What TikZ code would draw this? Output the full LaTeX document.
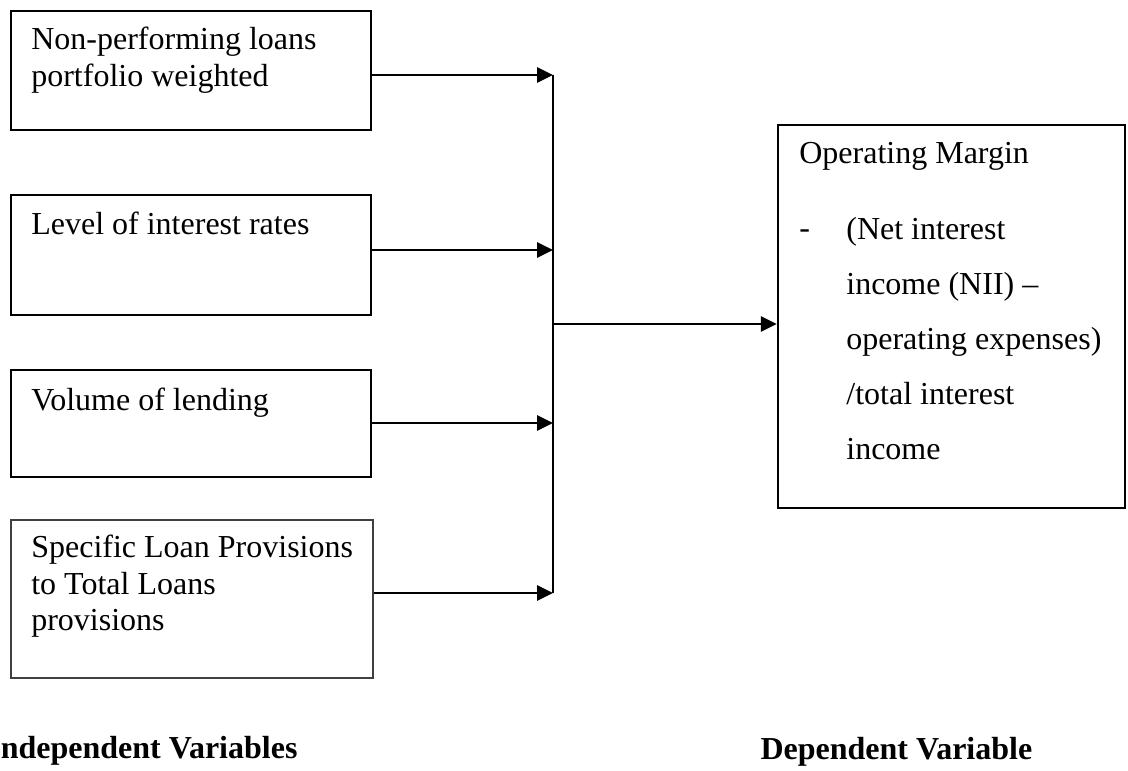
\documentclass[tikz,border=0pt]{standalone}
\usepackage{fontspec}
\setmainfont{Liberation Serif}
\usepackage{tikz}
\usetikzlibrary{positioning,arrows.meta,calc}

\begin{document}
\begin{tikzpicture}[x=0.375pt,y=-0.375pt]
	\tikzstyle{varbox} = [rectangle, draw, line width=0.9pt, inner sep=0pt];
	\tikzstyle{boxtext} = [anchor=north west, inner sep=0pt, align=left, font=\fontsize{12pt}{13.6pt}\selectfont];
	\tikzstyle{linetext} = [anchor=base west, inner sep=0pt, font=\fontsize{12pt}{14pt}\selectfont];
	\tikzstyle{heading} = [inner sep=0pt, font=\fontsize{12pt}{14pt}\selectfont\bfseries];
	\tikzstyle{arr} = [line width=1.1pt, -{Triangle[length=6pt,width=5.6pt]}];
	\useasboundingbox (0,0) rectangle (1128,771);
	
	% independent variables
	\node[varbox, minimum width=135pt, minimum height=44.6pt] (npl) at (191,70.5) {};
	\node[varbox, minimum width=135pt, minimum height=45pt] (rate) at (191,255) {};
	\node[varbox, minimum width=135pt, minimum height=40.1pt] (vol) at (191,423.5) {};
	\node[varbox, minimum width=135.75pt, minimum height=59.25pt, draw=black!75] (prov) at (192,599) {};
	
	\node[boxtext] (npltxt) at ([shift={(21,17)}]npl.north west) {Non-performing loans\\portfolio weighted};
	\node[boxtext] (ratetxt) at ([shift={(21,18)}]rate.north west) {Level of interest rates};
	\node[boxtext] (voltxt) at ([shift={(21,19)}]vol.north west) {Volume of lending};
	\node[boxtext] (provtxt) at ([shift={(21,16)}]prov.north west) {Specific Loan Provisions\\to Total Loans\\provisions};
	
	% dependent variable
	\node[varbox, minimum width=130.1pt, minimum height=143.6pt] (om) at (951.5,316.5) {};
	\node[linetext] (omtitle) at ([shift={(22,40)}]om.north west) {Operating Margin};
	\node[linetext] (omdash) at ([shift={(22,115)}]om.north west) {-};
	\node[boxtext, font=\fontsize{12pt}{20.6pt}\selectfont] (omtxt) at ([shift={(69,93)}]om.north west)
		{(Net interest\\income (NII) –\\operating expenses)\\/total interest\\income};
	
	% connectors
	\coordinate (j1) at (553,75);
	\coordinate (j2) at (553,250);
	\coordinate (j3) at (553,423);
	\coordinate (j4) at (553,593);
	\coordinate (jm) at (553,324);
	
	\draw[arr] (npl.east |- j1) -- (j1);
	\draw[arr] (rate.east |- j2) -- (j2);
	\draw[arr] (vol.east |- j3) -- (j3);
	\draw[arr] (prov.east |- j4) -- (j4);
	\draw[line width=1.1pt] (j1) -- (j4);
	\draw[arr] (jm) -- (om.west |- jm);
	
	% labels
	\node[heading, anchor=base east] (indep) at (298,759) {Independent Variables};
	\node[heading, anchor=base west] (dep) at (760,760) {Dependent Variable};
\end{tikzpicture}
\end{document}
